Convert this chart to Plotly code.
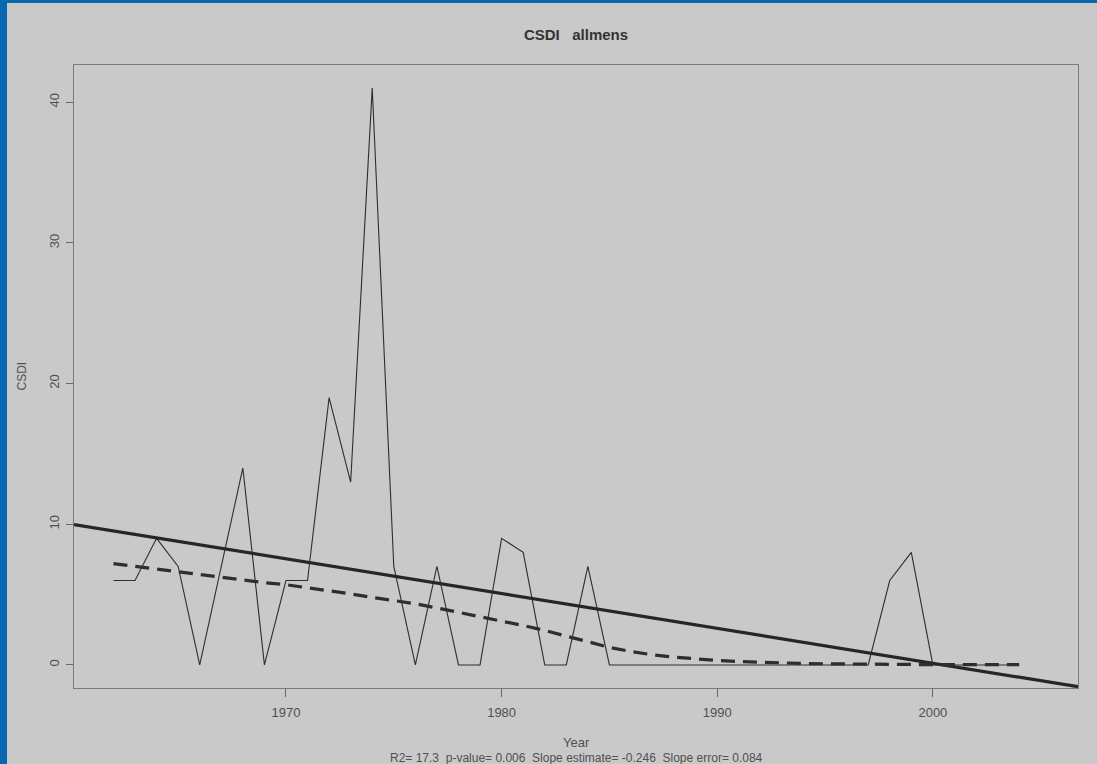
import numpy as np
import plotly.graph_objects as go

# ---- data ----
years = list(range(1962, 2005))
csdi = [6, 6, 9, 7, 0, 7, 14, 0, 6, 6,
        19, 13, 41, 7, 0, 7, 0, 0, 9, 8,
        0, 0, 7, 0, 0, 0, 0, 0, 0, 0,
        0, 0, 0, 0, 0, 0, 6, 8, 0, 0,
        0, 0, 0]
smooth = [7.2, 7.0, 6.8, 6.6, 6.45, 6.25, 6.05, 5.85, 5.7, 5.5,
          5.3, 5.05, 4.8, 4.6, 4.35, 4.05, 3.75, 3.45, 3.15, 2.8,
          2.45, 2.05, 1.65, 1.25, 0.95, 0.72, 0.55, 0.42, 0.32, 0.24,
          0.18, 0.13, 0.1, 0.08, 0.06, 0.05, 0.04, 0.03, 0.02, 0.02,
          0.02, 0.02, 0.02]
x_ticks = [1970, 1980, 1990, 2000]
y_ticks = [0, 10, 20, 30, 40]
x_range = [1960.17, 2006.73]
y_range = [-1.64, 42.64]
title_text = "CSDI   allmens"
sub_text = "R2= 17.3  p-value= 0.006  Slope estimate= -0.246  Slope error= 0.084"

# linear trend fitted to the series
slope, intercept = np.polyfit(years, csdi, 1)
trend_x = np.array(x_range)
trend_y = slope * trend_x + intercept

W, H = 1097, 764
L, R, T, B = 74, 19, 65, 76
pw, ph = W - L - R, H - T - B
BG = "#c9c9c9"
BLUE = "#0767b1"
FONT = "Liberation Sans, Arial, sans-serif"
TXT = "#505050"

fig = go.Figure()
fig.add_trace(go.Scatter(x=years, y=csdi, mode="lines",
                         line=dict(color="#2e2e2e", width=1.1), showlegend=False))
fig.add_trace(go.Scatter(x=trend_x, y=trend_y, mode="lines",
                         line=dict(color="#262626", width=3.2), showlegend=False))
fig.add_trace(go.Scatter(x=years, y=smooth, mode="lines",
                         line=dict(color="#2e2e2e", width=3.2, dash="14px,8px"),
                         showlegend=False))

top_y0 = 1 + (T - 3) / ph
top_y1 = 1 + T / ph
left_x0 = -L / pw
left_x1 = (-L + 7) / pw

fig.update_layout(
    width=W, height=H,
    margin=dict(l=L, r=R, t=T, b=B, autoexpand=False),
    paper_bgcolor=BG, plot_bgcolor=BG,
    font=dict(family=FONT, color=TXT),
    title=dict(text="<b>" + title_text + "</b>", x=(L + pw / 2) / W, xanchor="center",
               y=1 - 35 / H, yanchor="middle",
               font=dict(size=15, color="#333333", family=FONT)),
    xaxis=dict(range=x_range, tickvals=x_ticks, ticktext=[str(v) for v in x_ticks],
               showgrid=False, zeroline=False, showline=True, mirror=True,
               linecolor="#7a7a7a", linewidth=1.2,
               ticks="outside", ticklen=8, tickcolor="#666666", tickwidth=1,
               ticklabelstandoff=4,
               tickfont=dict(size=13, color=TXT, family=FONT)),
    yaxis=dict(range=y_range, tickvals=y_ticks, ticktext=[str(v) for v in y_ticks],
               showgrid=False, zeroline=False, showline=True, mirror=True,
               linecolor="#7a7a7a", linewidth=1.2,
               ticks="outside", ticklen=7, tickcolor="#666666", tickwidth=1,
               tickangle=-90, ticklabelstandoff=2,
               tickfont=dict(size=13, color=TXT, family=FONT)),
    annotations=[
        dict(text="Year", xref="paper", yref="paper", x=0.5, y=0,
             xanchor="center", yanchor="middle", yshift=-(742.7 - (T + ph)),
             showarrow=False, font=dict(size=13, color=TXT, family=FONT)),
        dict(text=sub_text, xref="paper", yref="paper", x=0.5, y=0,
             xanchor="center", yanchor="middle", yshift=-(757.5 - (T + ph)),
             showarrow=False, font=dict(size=12, color=TXT, family=FONT)),
        dict(text="CSDI", xref="paper", yref="paper", x=0, y=0.5,
             xanchor="center", yanchor="middle", xshift=-(L - 21), textangle=-90,
             showarrow=False, font=dict(size=12, color=TXT, family=FONT)),
    ],
    shapes=[
        dict(type="rect", xref="paper", yref="paper", layer="above",
             x0=-L / pw, x1=(W - L) / pw, y0=top_y0, y1=top_y1 + 0.01,
             fillcolor=BLUE, line=dict(width=0)),
        dict(type="rect", xref="paper", yref="paper", layer="above",
             x0=left_x0 - 0.01, x1=left_x1, y0=-B / ph - 0.01, y1=top_y1 + 0.01,
             fillcolor=BLUE, line=dict(width=0)),
    ],
)

fig.write_html("out.html", config={"displayModeBar": False},
               post_script="document.body.style.margin='0';document.body.style.overflow='hidden';")
